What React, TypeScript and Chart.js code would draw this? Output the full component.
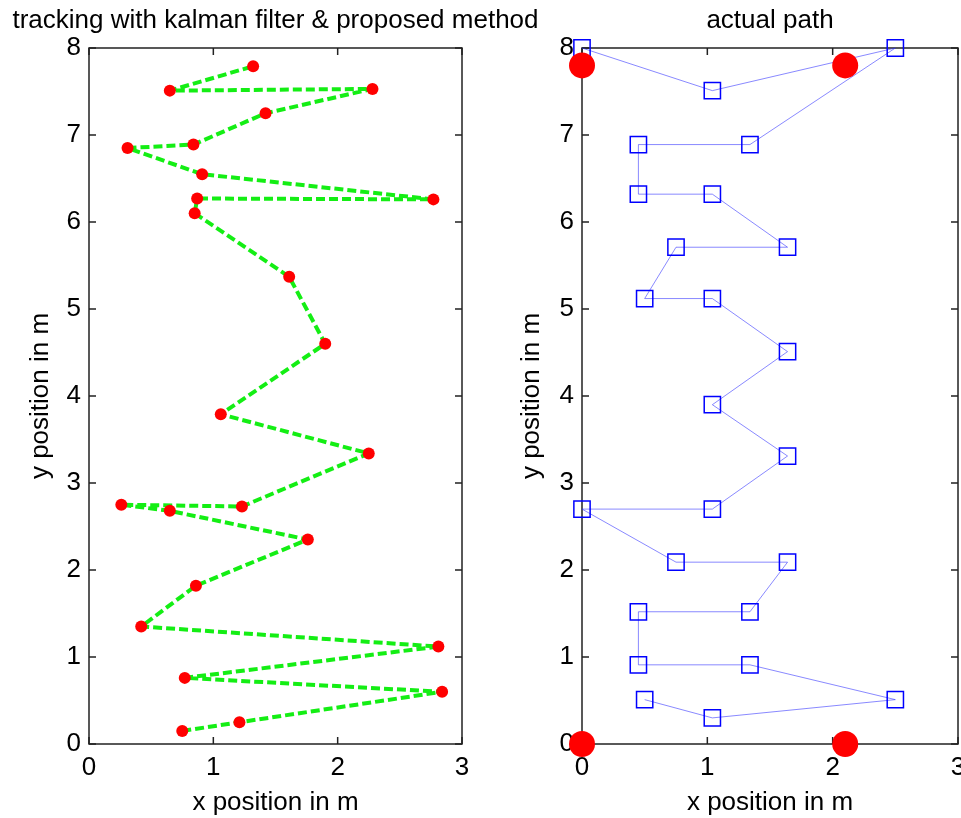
import React, { useEffect, useRef } from 'react';
import { Chart, registerables } from 'chart.js';

Chart.register(...registerables);

// ---- data ----
const estX = [0.75, 1.21, 2.84, 0.77, 2.81, 0.42, 0.86, 1.76, 0.65, 0.26, 1.23, 2.25, 1.06, 1.90, 1.61, 0.85, 0.87, 2.77, 0.91, 0.31, 0.84, 1.42, 2.28, 0.65, 1.32];
const estY = [0.15, 0.25, 0.60, 0.76, 1.12, 1.35, 1.82, 2.35, 2.68, 2.75, 2.73, 3.34, 3.79, 4.60, 5.37, 6.10, 6.27, 6.26, 6.55, 6.85, 6.89, 7.25, 7.53, 7.51, 7.79];

const actX = [0.50, 1.04, 2.50, 1.34, 0.45, 0.45, 1.34, 1.64, 0.75, 0, 1.04, 1.64, 1.04, 1.64, 1.04, 0.50, 0.75, 1.64, 1.04, 0.45, 0.45, 1.34, 2.50, 1.04, 0];
const actY = [0.51, 0.30, 0.51, 0.91, 0.91, 1.52, 1.52, 2.09, 2.09, 2.70, 2.70, 3.31, 3.90, 4.51, 5.12, 5.12, 5.71, 5.71, 6.32, 6.32, 6.89, 6.89, 8.0, 7.51, 8.0];

const ancX = [0, 2.1, 0, 2.1];
const ancY = [7.8, 7.8, 0, 0];

const xTicks = [0, 1, 2, 3];
const yTicks = [0, 1, 2, 3, 4, 5, 6, 7, 8];

const leftTitle = 'tracking with kalman filter & proposed method';
const rightTitle = 'actual path';
const xLabel = 'x position in m';
const yLabel = 'y position in m';

const FONT = "'Liberation Sans', Arial, Helvetica, sans-serif";
const FS = 26;
const CW = 1000; // canvas width (wider than window so the last tick label may overflow like the original)
const CH = 818;

const matlabBox = {
  id: 'matlabBox',
  beforeDatasetsDraw(chart: any, _args: any, opts: any) {
    const { ctx, chartArea: a, scales } = chart;
    ctx.save();
    ctx.strokeStyle = '#222';
    ctx.lineWidth = 1.5;
    ctx.strokeRect(a.left, a.top, a.right - a.left, a.bottom - a.top);
    const tl = 7;
    ctx.beginPath();
    for (const v of xTicks) {
      const px = scales.x.getPixelForValue(v);
      ctx.moveTo(px, a.bottom);
      ctx.lineTo(px, a.bottom - tl);
      ctx.moveTo(px, a.top);
      ctx.lineTo(px, a.top + tl);
    }
    for (const v of yTicks) {
      const py = scales.y.getPixelForValue(v);
      ctx.moveTo(a.left, py);
      ctx.lineTo(a.left + tl, py);
      ctx.moveTo(a.right, py);
      ctx.lineTo(a.right - tl, py);
    }
    ctx.stroke();
    ctx.fillStyle = '#000';
    ctx.font = `${FS}px ${FONT}`;
    ctx.textAlign = 'center';
    ctx.textBaseline = 'alphabetic';
    ctx.fillText(opts.text, (a.left + a.right) / 2, 28);
    ctx.restore();
  },
};

function makeScales(yAxisWidth: number, yTitlePad: number) {
  const font = { size: FS, family: FONT };
  return {
    x: {
      type: 'linear',
      min: 0,
      max: 3,
      ticks: { stepSize: 1, padding: 8, font, color: '#000', autoSkip: false, maxRotation: 0 },
      grid: { display: false, drawTicks: false },
      border: { display: false },
      title: { display: true, text: xLabel, font, color: '#000', padding: { top: 0, bottom: 0 } },
      afterFit: (s: any) => {
        s.height = 74;
        s.paddingLeft = 0;
        s.paddingRight = 0;
      },
    },
    y: {
      type: 'linear',
      min: 0,
      max: 8,
      ticks: { stepSize: 1, padding: 8, font, color: '#000', autoSkip: false },
      grid: { display: false, drawTicks: false },
      border: { display: false },
      title: { display: true, text: yLabel, font, color: '#000', padding: { top: yTitlePad, bottom: 0 } },
      afterFit: (s: any) => {
        s.width = yAxisWidth;
        s.paddingTop = 0;
        s.paddingBottom = 0;
      },
    },
  };
}

export default function App() {
  const leftRef = useRef<HTMLCanvasElement | null>(null);
  const rightRef = useRef<HTMLCanvasElement | null>(null);

  useEffect(() => {
    const c1 = new Chart(leftRef.current as HTMLCanvasElement, {
      type: 'scatter',
      data: {
        datasets: [
          {
            data: estX.map((x, i) => ({ x, y: estY[i] })),
            showLine: true,
            borderColor: '#14ee14',
            borderWidth: 4,
            borderDash: [9, 4],
            borderJoinStyle: 'round',
            tension: 0,
            pointRadius: 6,
            pointBackgroundColor: '#ff0000',
            pointBorderColor: '#ff0000',
            pointBorderWidth: 0,
          },
        ],
      },
      options: {
        responsive: false,
        animation: false,
        devicePixelRatio: 1,
        events: [],
        layout: { padding: { left: 0, right: CW - 462, top: 48, bottom: 0 } },
        plugins: { legend: { display: false }, tooltip: { enabled: false }, matlabBox: { text: leftTitle } } as any,
        scales: makeScales(89, 25.5) as any,
      },
      plugins: [matlabBox],
    });

    const c2 = new Chart(rightRef.current as HTMLCanvasElement, {
      type: 'scatter',
      data: {
        datasets: [
          {
            data: ancX.map((x, i) => ({ x, y: ancY[i] })),
            showLine: false,
            pointRadius: 13,
            pointBackgroundColor: '#ff0000',
            pointBorderColor: '#ff0000',
            pointBorderWidth: 0,
            clip: false,
          },
          {
            data: actX.map((x, i) => ({ x, y: actY[i] })),
            showLine: true,
            borderColor: 'rgba(40,40,255,0.55)',
            borderWidth: 1,
            tension: 0,
            pointStyle: 'rect',
            pointRadius: 11.5,
            pointBackgroundColor: 'rgba(0,0,0,0)',
            pointBorderColor: '#0000ff',
            pointBorderWidth: 1.5,
            clip: false,
          },
        ],
      },
      options: {
        responsive: false,
        animation: false,
        devicePixelRatio: 1,
        events: [],
        layout: { padding: { left: 480, right: CW - 958, top: 48, bottom: 0 } },
        plugins: { legend: { display: false }, tooltip: { enabled: false }, matlabBox: { text: rightTitle } } as any,
        scales: makeScales(102, 36.4) as any,
      },
      plugins: [matlabBox],
    });

    return () => {
      c1.destroy();
      c2.destroy();
    };
  }, []);

  const cs: React.CSSProperties = { position: 'absolute', left: 0, top: 0, width: CW, height: CH };
  return (
    <div style={{ position: 'fixed', left: 0, top: 0, width: 961, height: 818, background: '#fff', overflow: 'hidden' }}>
      <canvas ref={leftRef} width={CW} height={CH} style={cs} />
      <canvas ref={rightRef} width={CW} height={CH} style={cs} />
    </div>
  );
}
